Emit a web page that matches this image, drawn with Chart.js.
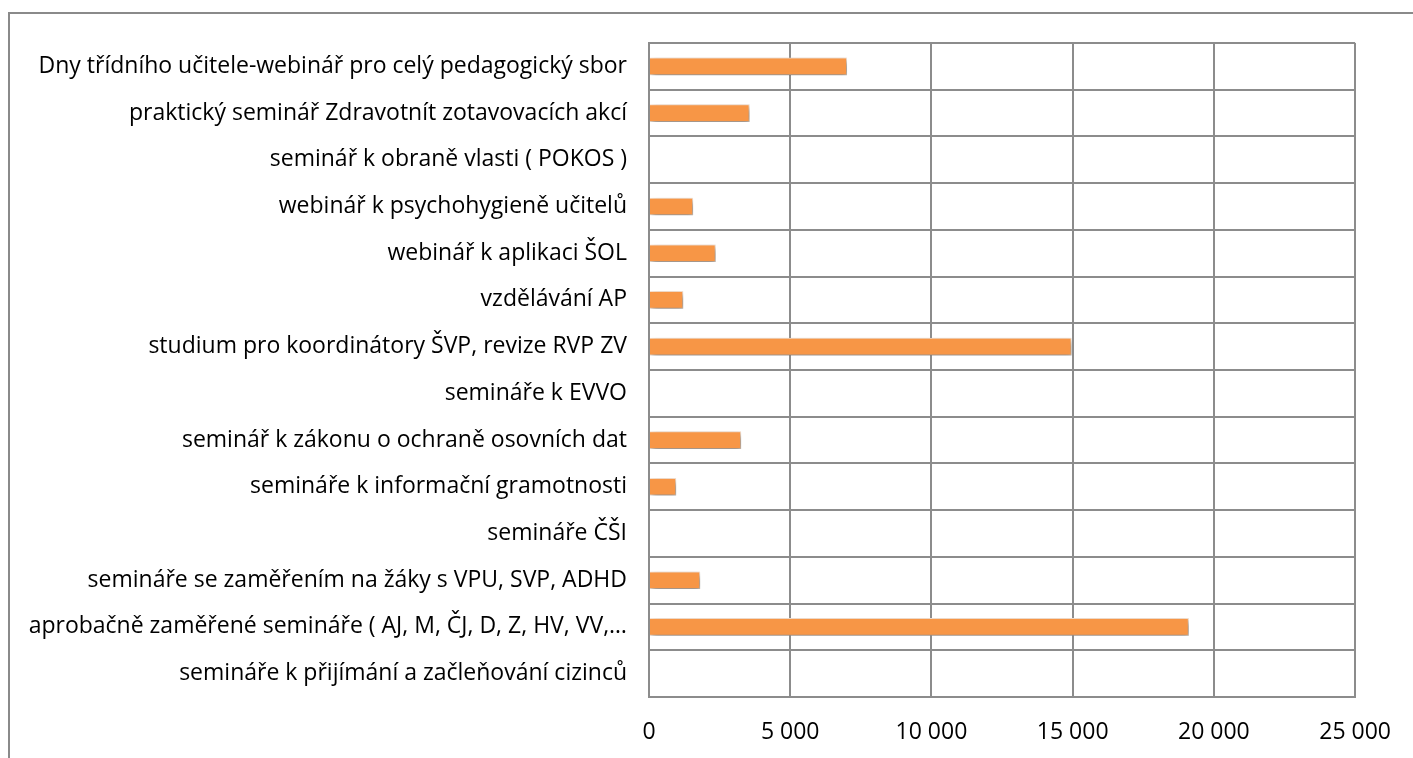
<!DOCTYPE html>
<html lang="cs">
<head>
    <meta charset="UTF-8">
    <title>Semináře</title>
    <script src="https://cdn.jsdelivr.net/npm/chart.js"></script>
    <style>
        html, body { margin: 0; padding: 0; background: #fff; overflow: hidden; }
        #wrap { position: relative; width: 1413px; height: 758px; }
        #frame { position: absolute; left: 8px; top: 12px; width: 1405px; height: 746px;
                 border-top: 2px solid #8a8a8a; border-left: 2px solid #8a8a8a; box-sizing: border-box; }
        canvas { position: absolute; left: 0; top: 0; }
    </style>
</head>
<body>
<div id="wrap">
    <div id="frame"></div>
    <canvas id="chart" width="1413" height="758"></canvas>
</div>
<script>
    const categories = [
        'Dny třídního učitele-webinář pro celý pedagogický sbor',
        'praktický seminář Zdravotnít zotavovacích akcí',
        'seminář k obraně vlasti ( POKOS )',
        'webinář k psychohygieně učitelů',
        'webinář k aplikaci ŠOL',
        'vzdělávání AP',
        'studium pro koordinátory ŠVP, revize RVP ZV',
        'semináře k EVVO',
        'seminář k zákonu o ochraně osovních dat',
        'semináře k informační gramotnosti',
        'semináře ČŠI',
        'semináře se zaměřením na žáky s VPU, SVP, ADHD',
        'aprobačně zaměřené semináře ( AJ, M, ČJ, D, Z, HV, VV,…',
        'semináře k přijímání a začleňování cizinců'
    ];
    const costs = [7000, 3550, 0, 1550, 2350, 1200, 14950, 0, 3250, 950, 0, 1800, 19100, 0];
    const xTicks = [0, 5000, 10000, 15000, 20000, 25000];

    const fmt = v => String(v).replace(/\B(?=(\d{3})+(?!\d))/g, ' ');

    // drop shadow under the bars
    const shadow = {
        id: 'shadow',
        beforeDatasetsDraw(chart) {
            const c = chart.ctx;
            c.save();
            c.shadowColor = 'rgba(0,0,0,0.45)';
            c.shadowBlur = 6;
            c.shadowOffsetX = 2;
            c.shadowOffsetY = 3;
        },
        afterDatasetsDraw(chart) {
            chart.ctx.restore();
        }
    };

    const font = { family: '"Open Sans", sans-serif', size: 23 };

    new Chart(document.getElementById('chart'), {
        type: 'bar',
        data: {
            labels: categories,
            datasets: [{
                data: costs,
                backgroundColor: '#F79646',
                borderColor: '#fde7d5',
                borderWidth: 1,
                borderSkipped: 'start',
                barThickness: 17
            }]
        },
        options: {
            indexAxis: 'y',
            responsive: false,
            animation: false,
            layout: { padding: { top: 43, right: 57, left: 0, bottom: 0 } },
            plugins: { legend: { display: false }, tooltip: { enabled: false } },
            scales: {
                x: {
                    min: 0, max: 25000,
                    afterBuildTicks: s => { s.ticks = xTicks.map(v => ({ value: v })); },
                    afterFit: s => { s.height = 61; },
                    grid: { color: '#8c8c8c', lineWidth: 2, drawTicks: false },
                    border: { color: '#8c8c8c', width: 2 },
                    ticks: { color: '#000', font: font, padding: 22, callback: v => fmt(v) }
                },
                y: {
                    afterFit: s => { s.width = 649; },
                    grid: { color: '#8c8c8c', lineWidth: 2, drawTicks: false },
                    border: { color: '#8c8c8c', width: 2 },
                    ticks: { color: '#000', font: font, padding: 22, autoSkip: false }
                }
            }
        },
        plugins: [shadow]
    });
</script>
</body>
</html>
